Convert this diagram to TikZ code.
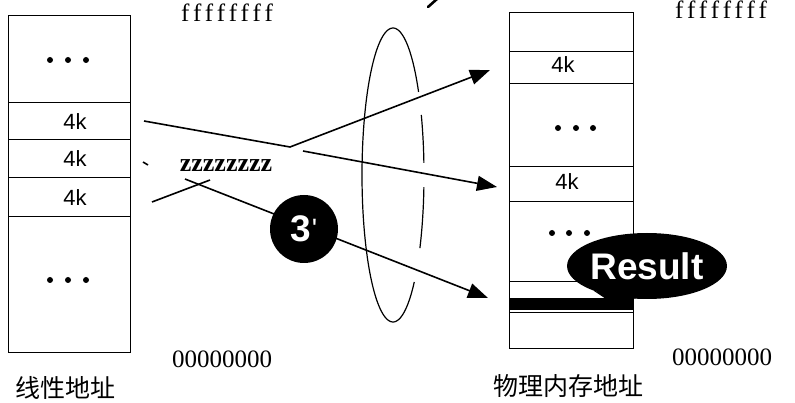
\documentclass[tikz,border=0pt]{standalone}
\usepackage{fontspec}
\setmainfont{Liberation Serif}
\newfontfamily\hsans{Liberation Sans}
\newfontfamily\cjk{Noto Sans CJK SC}
\usetikzlibrary{arrows.meta,shapes.geometric}
\newcommand{\spf}{f\kern3.6pt f\kern3.6pt f\kern3.6pt f\kern3.6pt f\kern3.6pt f\kern3.6pt f\kern3.6pt f}
\begin{document}
\begin{tikzpicture}[x=1pt,y=-1pt,
  cell/.style={draw, line width=1pt},
  conn/.style={line width=1.6pt},
  arr/.style={conn, -{Triangle[length=20pt,width=15pt]}},
  klab/.style={font=\fontsize{22}{22}\selectfont\hsans, inner sep=0pt},
  addr/.style={font=\fontsize{25}{25}\selectfont, inner sep=0pt, anchor=base},
  cjklab/.style={font=\fontsize{25}{25}\selectfont\cjk, inner sep=0pt},
  dot/.style={circle, fill=black, inner sep=0pt, minimum size=6pt},
  ring/.style={line width=1.2pt},
  blob/.style={fill=black, text=white, inner sep=0pt}
]
\useasboundingbox (0,0) rectangle (795,403);

% ---------- left column: linear address ----------
\draw[cell] (8,16) rectangle (130,352);
\foreach \yy in {103,140,178,217} \draw[cell] (8,\yy) -- (130,\yy);
\foreach \xx/\nm in {50/a,68/b,86/c} {
  \node[dot] (ldt\nm) at (\xx,60) {};
  \node[dot] (ldb\nm) at (\xx,280) {};
}
\node[klab] (lk1) at (75,122) {4k};
\node[klab] (lk2) at (75,159) {4k};
\node[klab] (lk3) at (75,198) {4k};
\node[addr] (lff) at (227,22) {\spf};
\node[addr] (l00) at (222,367) {00000000};
\node[cjklab] (lcap) at (66,388) {线性地址};
\node[addr, font=\fontsize{26}{26}\selectfont\bfseries] (zz) at (226,172) {zzzzzzzz};

% ---------- right column: physical memory ----------
\draw[cell] (509,13) rectangle (633,348);
\foreach \yy in {52,84,167,202,282,313} \draw[cell] (509,\yy) -- (633,\yy);
\fill (509,298) rectangle (633,310);
\node[klab] (rk1) at (563,65) {4k};
\node[klab] (rk2) at (567,182) {4k};
\foreach \xx/\nm in {558/a,576/b,593/c} \node[dot] (rdt\nm) at (\xx,128) {};
\foreach \xx/\nm in {552/a,569/b,587/c} \node[dot] (rdb\nm) at (\xx,233) {};
\node[addr] (rff) at (721,19) {\spf};
\node[addr] (r00) at (722,365) {00000000};
\node[cjklab] (rcap) at (568,386) {物理内存地址};

% ---------- ring (back half, broken) ----------
\foreach \sa/\ea in {90/34.4, 24.1/4.7, -4.7/-29.8, -46.7/-90}
  \draw[ring] plot[smooth, domain=\sa:\ea, samples=30] ({393+31*cos(\x)}, {175-147*sin(\x)});

% ---------- connectors ----------
\coordinate (a0) at (144,121);
\coordinate (a1) at (290,147);
\coordinate (a2) at (490,70);
\coordinate (b0) at (303,151);
\coordinate (b1) at (497,187);
\coordinate (c0) at (152,202);
\coordinate (c1) at (210,180);
\coordinate (d0) at (185,179);
\coordinate (d1) at (488,298);
\draw[arr] (a0) -- (a1) -- (a2);
\draw[arr] (b0) -- (b1);
\draw[conn] (c0) -- (c1);
\draw[arr] (d0) -- (d1);

% small marks
\coordinate (m0) at (143,162);
\coordinate (m1) at (148,165);
\draw[conn] (m0) -- (m1);
\coordinate (t0) at (428,7);
\coordinate (t1) at (437,-1);
\draw[line width=2.6pt, line cap=round] (t0) -- (t1);

% ---------- ring (front half) ----------
\draw[ring] plot[smooth, domain=90:270, samples=60] ({393+31*cos(\x)}, {175-147*sin(\x)});

% ---------- 3' badge ----------
\node[blob, circle, minimum size=68pt] (three) at (304,229)
  {\hsans\bfseries\fontsize{37}{37}\selectfont 3\kern0.5pt\raisebox{3pt}{\mdseries\fontsize{28}{28}\selectfont '}};

% ---------- Result bubble ----------
\node[blob, ellipse, minimum width=151pt, minimum height=66pt] (res) at (647,266)
  {\hsans\bfseries\fontsize{37}{37}\selectfont Result};
\coordinate (tail) at (606,299);
\fill (res.205) -- (tail) -- (res.252) -- cycle;
\end{tikzpicture}
\end{document}
